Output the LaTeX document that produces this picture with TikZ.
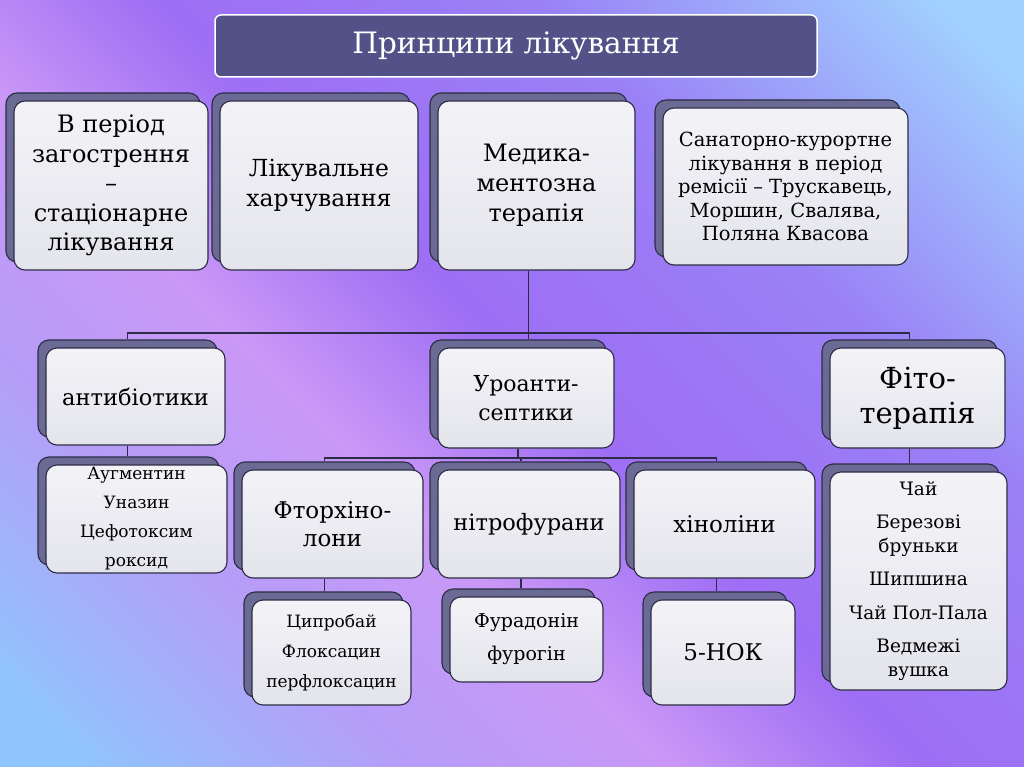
\documentclass[tikz,border=0pt]{standalone}
\usepackage{fontspec}
\setmainfont{DejaVu Serif}
\usetikzlibrary{shadows}
\definecolor{edge}{HTML}{2C2C46}
\definecolor{backc}{HTML}{6A6A94}
\definecolor{ftop}{HTML}{F3F3F7}
\definecolor{fbot}{HTML}{E4E5EC}
\definecolor{titlec}{HTML}{525288}
\definecolor{lb}{HTML}{90C4FC}
\definecolor{lb2}{HTML}{A0D0FE}
\definecolor{lav}{HTML}{B69CF8}
\definecolor{pink}{HTML}{CA98F6}
\definecolor{vio}{HTML}{9E6EF4}
\definecolor{vio2}{HTML}{9A80F6}
\pgfdeclarehorizontalshading{bgshade}{100bp}{color(0bp)=(lb); color(18bp)=(lb); color(31bp)=(lav); color(41bp)=(pink); color(51bp)=(vio); color(66bp)=(vio2); color(82bp)=(lb2); color(100bp)=(lb2)}
\newcommand\fs[2]{\fontsize{#1}{#2}\selectfont}
\begin{document}
\begin{tikzpicture}[x=1pt,y=-1pt,
  fbox/.style={draw=edge, line width=1.1pt, rounded corners=11pt,
    top color=ftop, bottom color=fbot, align=center, inner sep=2pt,
    general shadow={draw=edge, line width=1.1pt, fill=backc,
      shadow xshift=-8pt, shadow yshift=8pt}},
  conn/.style={draw=edge, line width=1.2pt},
  titlebox/.style={draw=white, line width=1.5pt, rounded corners=6pt,
    fill=titlec, text=white, align=center}]
\useasboundingbox (0,0) rectangle (1024,767);
\shade[shading=bgshade, shading angle=45] (0,0) rectangle (1024,767);

\node[titlebox, minimum width=602pt, minimum height=62pt, font=\fs{29.5}{34}] (title) at (516,46) {Принципи лікування};

% row 1
\node[fbox, minimum width=194pt, minimum height=169pt, font=\fs{24}{29.5}] (b1) at (111,185.5) {В період\\загострення\\–\\стаціонарне\\лікування};
\node[fbox, minimum width=198pt, minimum height=169pt, font=\fs{23.5}{30}] (b2) at (319,185.5) {Лікувальне\\харчування};
\node[fbox, minimum width=197pt, minimum height=169pt, font=\fs{24}{30}] (b3) at (536.5,185.5) {Медика-\\ментозна\\терапія};
\node[fbox, minimum width=245pt, minimum height=157pt, font=\fs{19.5}{23.5}] (b4) at (785.5,186.5) {Санаторно-курортне\\лікування в період\\ремісії – Трускавець,\\Моршин, Свалява,\\Поляна Квасова};

% row 2
\node[fbox, minimum width=179pt, minimum height=97pt, font=\fs{22.5}{28}] (ab) at (135.5,396.5) {антибіотики};
\node[fbox, minimum width=176pt, minimum height=100pt, font=\fs{22}{29}] (uro) at (526,398) {Уроанти-\\септики};
\node[fbox, minimum width=175pt, minimum height=100pt, font=\fs{29}{35}] (fito) at (917.5,398) {Фіто-\\терапія};

% row 3
\node[fbox, minimum width=181pt, minimum height=108pt, font=\fs{17}{29}] (ablist) at (136.5,519) {Аугментин\\Уназин\\Цефотоксим\\роксид};
\node[fbox, minimum width=181pt, minimum height=108pt, font=\fs{23}{28}] (ftor) at (332.5,524) {Фторхіно-\\лони};
\node[fbox, minimum width=182pt, minimum height=108pt, font=\fs{22.5}{28}] (nitro) at (529,524) {нітрофурани};
\node[fbox, minimum width=181pt, minimum height=108pt, font=\fs{23}{28}] (khin) at (724.5,524) {хіноліни};
\node[fbox, minimum width=177pt, minimum height=218pt, font=\fs{18.5}{23.5}] (fitolist) at (918.5,581) {Чай\\[10pt]Березові\\бруньки\\[10pt]Шипшина\\[10pt]Чай Пол-Пала\\[10pt]Ведмежі\\вушка};

% row 4
\node[fbox, minimum width=159pt, minimum height=105pt, font=\fs{17}{30}] (cipro) at (331.5,652.5) {Ципробай\\Флоксацин\\перфлоксацин};
\node[fbox, minimum width=153pt, minimum height=85pt, font=\fs{19}{33}] (fura) at (526.5,639.5) {Фурадонін\\фурогін};
\node[fbox, minimum width=144pt, minimum height=105pt, font=\fs{23}{28}] (hok) at (723,652.5) {5-НОК};

% connector anchor points (centres of the stacked boxes)
\coordinate (b3B) at ([xshift=-8pt]b3.south);
\coordinate (abT) at ([xshift=-8pt,yshift=8pt]ab.north);
\coordinate (uroT) at ([yshift=8pt]uro.north);
\coordinate (fitoT) at ([xshift=-8pt,yshift=8pt]fito.north);
\coordinate (abB) at ([xshift=-8pt]ab.south);
\coordinate (uroB) at ([xshift=-8pt]uro.south);
\coordinate (fitoB) at ([xshift=-8pt]fito.south);
\coordinate (ablistT) at ([xshift=-8pt,yshift=8pt]ablist.north);
\coordinate (ftorT) at ([xshift=-8pt,yshift=8pt]ftor.north);
\coordinate (nitroT) at ([xshift=-8pt,yshift=8pt]nitro.north);
\coordinate (khinT) at ([xshift=-8pt,yshift=8pt]khin.north);
\coordinate (fitolistT) at ([xshift=-8pt,yshift=8pt]fitolist.north);
\coordinate (ftorB) at ([xshift=-8pt]ftor.south);
\coordinate (nitroB) at ([xshift=-8pt]nitro.south);
\coordinate (khinB) at ([xshift=-8pt]khin.south);
\coordinate (ciproT) at ([xshift=-8pt,yshift=8pt]cipro.north);
\coordinate (furaT) at ([xshift=-8pt,yshift=8pt]fura.north);
\coordinate (hokT) at ([xshift=-8pt,yshift=8pt]hok.north);
\coordinate (bus1) at (0,333);
\coordinate (bus2) at (0,458);

\draw[conn] (b3B) -- (b3B |- uroT);
\draw[conn] (abT) |- (bus1 -| fitoT) -- (fitoT);
\draw[conn] (uroB) -- (uroB |- bus2);
\draw[conn] (ftorT) |- (bus2 -| khinT) -- (khinT);
\draw[conn] (nitroT) -- (nitroT |- bus2);
\draw[conn] (abB) -- (abB |- ablistT);
\draw[conn] (fitoB) -- (fitoB |- fitolistT);
\draw[conn] (ftorB) -- (ftorB |- ciproT);
\draw[conn] (nitroB) -- (nitroB |- furaT);
\draw[conn] (khinB) -- (khinB |- hokT);
\end{tikzpicture}
\end{document}
